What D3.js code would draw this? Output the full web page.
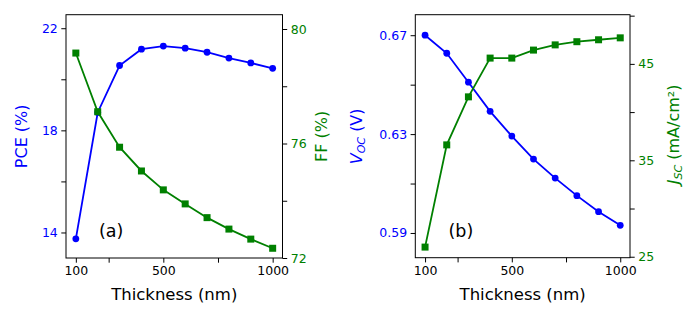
<!DOCTYPE html>
<html>
<head>
<meta charset="utf-8">
<script src="https://cdn.jsdelivr.net/npm/d3@7"></script>
<style>
	body { margin: 0; background: #fff; }
	text { font-family: "DejaVu Sans", sans-serif; }
</style>
</head>
<body>
<div id="graphContainer"></div>
<script>
// thickness values shared by both panels
var thickness = [100, 200, 300, 400, 500, 600, 700, 800, 900, 1000];
var xTicks = [100, 250, 500, 750, 1000];
var xTickLabels = ["100", "", "500", "", "1000"];

// panel (a)
var pce = [13.75, 18.7, 20.54, 21.18, 21.3, 21.22, 21.06, 20.83, 20.64, 20.43];
var ff = [79.16, 77.11, 75.87, 75.04, 74.38, 73.89, 73.41, 73.01, 72.66, 72.34];
var pceTicks = [14, 16, 18, 20, 22];
var pceTickLabels = ["14", "", "18", "", "22"];
var ffTicks = [72, 74, 76, 78, 80];
var ffTickLabels = ["72", "", "76", "", "80"];

// panel (b)
var voc = [0.670, 0.6627, 0.651, 0.6392, 0.6292, 0.6199, 0.6122, 0.6051, 0.5986, 0.5931];
var jsc = [26.0, 36.6, 41.58, 45.6, 45.6, 46.43, 46.97, 47.3, 47.5, 47.7];
var vocTicks = [0.59, 0.61, 0.63, 0.65, 0.67];
var vocTickLabels = ["0.59", "", "0.63", "", "0.67"];
var jscTicks = [25, 30, 35, 40, 45, 50];
var jscTickLabels = ["25", "", "35", "", "45", ""];

var blue = "#0000ff";
var green = "#008000";

window.onload = function()
{
	var svg = d3.select("#graphContainer").append("svg")
		.attr("width", 700)
		.attr("height", 320);

	DrawPanel(svg, {
		left: 66, right: 282.5, top: 14.7, bottom: 258,
		yLeft: pce, yLeftDomain: [13.0, 22.53], yLeftTicks: pceTicks, yLeftLabels: pceTickLabels,
		yRight: ff, yRightDomain: [72, 80.5], yRightTicks: ffTicks, yRightLabels: ffTickLabels,
		leftTitleX: 27, rightTitleX: 327, tag: "(a)", tagX: 99
	});

	DrawPanel(svg, {
		left: 415.3, right: 630, top: 14.7, bottom: 257.7,
		yLeft: voc, yLeftDomain: [0.58, 0.6783], yLeftTicks: vocTicks, yLeftLabels: vocTickLabels,
		yRight: jsc, yRightDomain: [24.9, 50.1], yRightTicks: jscTicks, yRightLabels: jscTickLabels,
		leftTitleX: 362, rightTitleX: 679, tag: "(b)", tagX: 448.5
	});

	// y titles
	var midA = (14.7 + 258) / 2;
	svg.append("text")
		.attr("transform", `translate(27, ${midA}) rotate(-90)`)
		.attr("text-anchor", "middle")
		.attr("fill", blue)
		.style("font-size", "16px")
		.text("PCE (%)");

	svg.append("text")
		.attr("transform", `translate(327, ${midA}) rotate(-90)`)
		.attr("text-anchor", "middle")
		.attr("fill", green)
		.style("font-size", "16px")
		.text("FF (%)");

	var voct = svg.append("text")
		.attr("transform", `translate(362, ${midA}) rotate(-90)`)
		.attr("text-anchor", "middle")
		.attr("fill", blue)
		.style("font-size", "16px");
	voct.append("tspan").style("font-style", "italic").text("V");
	voct.append("tspan").style("font-style", "italic").style("font-size", "11px").attr("dy", 3).text("OC");
	voct.append("tspan").attr("dy", -3).text(" (V)");

	var jsct = svg.append("text")
		.attr("transform", `translate(679, ${midA - 2}) rotate(-90)`)
		.attr("text-anchor", "middle")
		.attr("fill", green)
		.style("font-size", "16px");
	jsct.append("tspan").style("font-style", "italic").text("J");
	jsct.append("tspan").style("font-style", "italic").style("font-size", "11px").attr("dy", 3).text("SC");
	jsct.append("tspan").attr("dy", -3).text(" (mA/cm²)");
}

function DrawPanel(svg, o)
{
	var x = d3.scaleLinear().domain([55, 1045]).range([o.left, o.right]);
	var yL = d3.scaleLinear().domain(o.yLeftDomain).range([o.bottom, o.top]);
	var yR = d3.scaleLinear().domain(o.yRightDomain).range([o.bottom, o.top]);

	var g = svg.append("g");

	/* Axes */
	var xAxis = d3.axisBottom(x).tickValues(xTicks)
		.tickFormat((d, i) => xTickLabels[i]).tickSizeOuter(0).tickSize(4.7).tickPadding(3.5);
	var leftAxis = d3.axisLeft(yL).tickValues(o.yLeftTicks)
		.tickFormat((d, i) => o.yLeftLabels[i]).tickSizeOuter(0).tickSize(4.7).tickPadding(3.5);
	var rightAxis = d3.axisRight(yR).tickValues(o.yRightTicks)
		.tickFormat((d, i) => o.yRightLabels[i]).tickSizeOuter(0).tickSize(4.7).tickPadding(3.5);

	var gx = g.append("g")
		.attr("transform", `translate(0, ${o.bottom})`)
		.call(xAxis);
	gx.selectAll("text").attr("fill", "#000").style("font-size", "12.5px");

	var gl = g.append("g")
		.attr("transform", `translate(${o.left}, 0)`)
		.call(leftAxis);
	gl.selectAll("text").attr("fill", blue).style("font-size", "12.5px");

	var gr = g.append("g")
		.attr("transform", `translate(${o.right}, 0)`)
		.call(rightAxis);
	gr.selectAll("text").attr("fill", green).style("font-size", "12.5px");

	g.selectAll(".domain").remove();
	g.selectAll(".tick line").attr("stroke", "#000").attr("stroke-width", 1);

	/* Frame */
	g.append("rect")
		.attr("x", o.left)
		.attr("y", o.top)
		.attr("width", o.right - o.left)
		.attr("height", o.bottom - o.top)
		.attr("fill", "none")
		.attr("stroke", "#000")
		.attr("stroke-width", 1);

	/* x title */
	g.append("text")
		.attr("x", (o.left + o.right) / 2)
		.attr("y", 300)
		.attr("text-anchor", "middle")
		.attr("fill", "#000")
		.style("font-size", "16.5px")
		.text("Thickness (nm)");

	/* panel tag */
	g.append("text")
		.attr("x", o.tagX)
		.attr("y", 236.5)
		.attr("fill", "#000")
		.style("font-size", "17.5px")
		.text(o.tag);

	/* left series: circles */
	var lineL = d3.line()
		.x((d, i) => x(thickness[i]))
		.y(d => yL(d));

	g.append("path")
		.datum(o.yLeft)
		.attr("d", lineL)
		.attr("fill", "none")
		.attr("stroke", blue)
		.attr("stroke-width", 1.8);

	g.append("g")
		.selectAll("circle")
		.data(o.yLeft).enter()
		.append("circle")
		.attr("cx", (d, i) => x(thickness[i]))
		.attr("cy", d => yL(d))
		.attr("r", 3.4)
		.attr("fill", blue);

	/* right series: squares */
	var lineR = d3.line()
		.x((d, i) => x(thickness[i]))
		.y(d => yR(d));

	g.append("path")
		.datum(o.yRight)
		.attr("d", lineR)
		.attr("fill", "none")
		.attr("stroke", green)
		.attr("stroke-width", 1.8);

	var s = 7;
	g.append("g")
		.selectAll("rect")
		.data(o.yRight).enter()
		.append("rect")
		.attr("x", (d, i) => x(thickness[i]) - s / 2)
		.attr("y", d => yR(d) - s / 2)
		.attr("width", s)
		.attr("height", s)
		.attr("fill", green);
}
</script>
</body>
</html>
